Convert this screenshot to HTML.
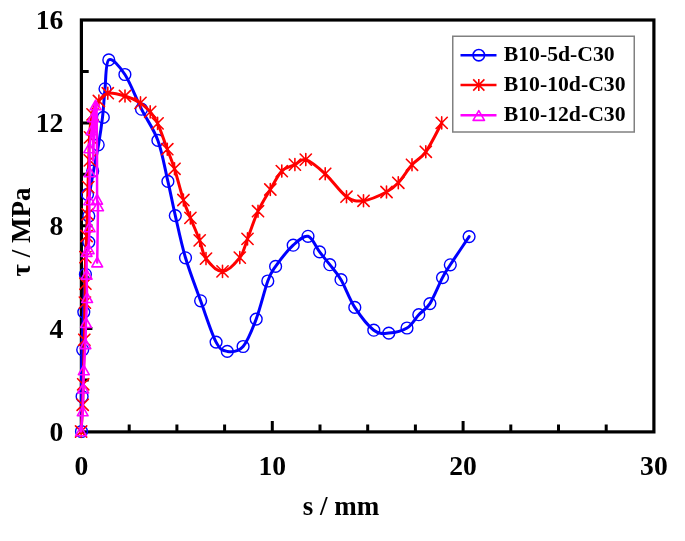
<!DOCTYPE html>
<html><head><meta charset="utf-8"><style>
html,body{margin:0;padding:0;background:#fff;}
body{width:685px;height:541px;overflow:hidden;}
svg{display:block;will-change:transform;}
text{font-family:"Liberation Serif",serif;font-weight:bold;fill:#000;}
</style></head><body>
<svg width="685" height="541" viewBox="0 0 685 541">
<rect width="685" height="541" fill="#fff"/>
<g font-size="27.6"><text x="63.4" y="440.6" text-anchor="end">0</text><text x="63.4" y="337.7" text-anchor="end">4</text><text x="63.4" y="234.8" text-anchor="end">8</text><text x="63.4" y="132" text-anchor="end">12</text><text x="63.4" y="29.1" text-anchor="end">16</text><text x="81.5" y="474.7" text-anchor="middle">0</text><text x="272.3" y="474.7" text-anchor="middle">10</text><text x="463.1" y="474.7" text-anchor="middle">20</text><text x="653.9" y="474.7" text-anchor="middle">30</text></g>
<g font-size="27">
<text x="341" y="515" text-anchor="middle">s / mm</text>
<text transform="translate(30,232) rotate(-90)" text-anchor="middle">τ / MPa</text>
</g>
<path d="M129.2,432V424.6M176.9,432V424.6M224.6,432V424.6M272.3,432V420.9M320,432V424.6M367.7,432V424.6M415.4,432V424.6M463.1,432V420.9M510.8,432V424.6M558.5,432V424.6M606.2,432V424.6M81,380.1H88.7M81,328.6H92.4M81,277.2H88.7M81,225.7H92.4M81,174.3H88.7M81,122.9H92.4M81,71.4H88.7" stroke="#000" stroke-width="3" fill="none"/>
<rect x="81.4" y="20" width="572.5" height="411.9" fill="none" stroke="#000" stroke-width="3.2"/>
<g fill="none" stroke-linejoin="round" stroke-linecap="round">
<path d="M81.5,431.5C81.5,425.6 81.2,410.1 81.3,396.4C81.4,382.7 81.6,363.4 82,349.4C82.4,335.3 83,324.6 83.5,312.1C84,299.6 84.5,286 85,274.3C85.5,262.6 86.1,251.8 86.5,242.1C86.9,232.4 87,223.9 87.5,216C88,208.1 88.5,201.9 89.5,194.4C90.5,186.9 92,179.3 93.5,171C95,162.7 97,153.7 98.5,144.8C100,135.9 101.4,126.7 102.5,117.4C103.6,108.1 104,98.4 105,88.8C106,79.2 105.5,62.3 108.8,59.9C112.1,57.5 119.5,66.3 124.9,74.5C130.3,82.7 136,98.2 141.5,109.2C147,120.2 153.5,128.4 157.9,140.4C162.3,152.4 165,168.9 167.9,181.4C170.8,193.9 172.4,202.9 175.3,215.6C178.2,228.3 181.3,243.6 185.5,257.8C189.7,272 195.5,286.7 200.6,300.8C205.7,314.8 211.6,333.7 216.1,342.1C220.6,350.5 222.8,350.7 227.3,351.4C231.8,352.1 238.3,351.9 243.1,346.5C247.9,341.1 252.1,330 256.2,319.1C260.3,308.2 264.6,289.8 267.8,281C271,272.2 271.4,272.4 275.6,266.4C279.8,260.4 287.8,250.2 293.2,245.2C298.6,240.2 303.6,235.2 308,236.3C312.4,237.4 316,247.2 319.6,251.9C323.2,256.6 326.2,260.1 329.8,264.7C333.4,269.3 336.8,272.6 341,279.7C345.2,286.8 349.3,299 354.8,307.4C360.3,315.8 368.1,325.9 373.8,330.2C379.5,334.5 383.3,333.5 388.8,333.1C394.3,332.7 402,331.1 407,328C412,324.9 415,318.8 418.8,314.7C422.6,310.6 425.9,309.8 429.9,303.6C433.8,297.4 439.1,284.1 442.5,277.6C445.9,271.1 445.9,271.6 450.3,264.8C454.7,258 466,241.3 469.1,236.6" stroke="#00f" stroke-width="3"/>
<g stroke="#00f" stroke-width="1.4"><circle cx="81.5" cy="431.5" r="5.9"/><circle cx="82.1" cy="396.5" r="5.9"/><circle cx="82.7" cy="349.8" r="5.9"/><circle cx="83.8" cy="312.1" r="5.9"/><circle cx="85.4" cy="274.3" r="5.9"/><circle cx="88.8" cy="242.1" r="5.9"/><circle cx="88.8" cy="216" r="5.9"/><circle cx="87.5" cy="194.4" r="5.9"/><circle cx="92.7" cy="171" r="5.9"/><circle cx="98.2" cy="144.8" r="5.9"/><circle cx="103.3" cy="117.4" r="5.9"/><circle cx="105" cy="88.8" r="5.9"/><circle cx="108.8" cy="59.9" r="5.9"/><circle cx="124.9" cy="74.5" r="5.9"/><circle cx="141.5" cy="109.2" r="5.9"/><circle cx="157.9" cy="140.4" r="5.9"/><circle cx="167.9" cy="181.4" r="5.9"/><circle cx="175.3" cy="215.6" r="5.9"/><circle cx="185.5" cy="257.8" r="5.9"/><circle cx="200.6" cy="300.8" r="5.9"/><circle cx="216.1" cy="342.1" r="5.9"/><circle cx="227.3" cy="351.4" r="5.9"/><circle cx="243.1" cy="346.5" r="5.9"/><circle cx="256.2" cy="319.1" r="5.9"/><circle cx="267.8" cy="281" r="5.9"/><circle cx="275.6" cy="266.4" r="5.9"/><circle cx="293.2" cy="245.2" r="5.9"/><circle cx="308" cy="236.3" r="5.9"/><circle cx="319.6" cy="251.9" r="5.9"/><circle cx="329.8" cy="264.7" r="5.9"/><circle cx="341" cy="279.7" r="5.9"/><circle cx="354.8" cy="307.4" r="5.9"/><circle cx="373.8" cy="330.2" r="5.9"/><circle cx="388.8" cy="333.1" r="5.9"/><circle cx="407" cy="328" r="5.9"/><circle cx="418.8" cy="314.7" r="5.9"/><circle cx="429.9" cy="303.6" r="5.9"/><circle cx="442.5" cy="277.6" r="5.9"/><circle cx="450.3" cy="264.8" r="5.9"/><circle cx="469.1" cy="236.6" r="5.9"/></g>
<path d="M81.1,431.5C81.4,427.1 82.3,412.7 82.7,404.8C83.1,396.9 82.9,395.1 83.2,384.3C83.5,373.5 84,353.4 84.3,339.8C84.6,326.2 84.8,311.9 84.9,302.6C85.1,293.2 85.1,291.3 85.2,283.7C85.3,276.1 85.4,265 85.6,257.1C85.8,249.1 86.3,243.1 86.6,236C86.9,228.9 87.1,222.5 87.3,214.3C87.5,206.2 87.8,196.1 88,187.1C88.2,178.1 88.5,168.7 88.8,160.4C89,152.1 89,145.1 89.5,137.4C90,129.7 90.4,120.5 92,114.4C93.6,108.3 96.3,104.5 98.9,101C101.5,97.5 103.5,94 107.8,93.2C112.1,92.4 119.5,94.4 125,96C130.4,97.6 136.3,100.2 140.5,102.9C144.7,105.6 147.3,108.5 150.2,111.9C153,115.3 154.8,117.2 157.6,123.4C160.4,129.6 164.5,141.6 167.3,149.2C170.1,156.8 171.8,160.3 174.5,168.8C177.2,177.3 180.8,191.8 183.4,200C186.1,208.2 187.7,211.2 190.4,217.9C193.1,224.6 197.1,233.6 199.7,240.4C202.3,247.2 202.2,253.4 206,258.6C209.8,263.8 216.9,271.6 222.5,271.4C228.1,271.2 235.6,263 239.8,257.6C244,252.2 244.5,246.6 247.5,238.9C250.5,231.2 254.2,219.4 258,211.2C261.8,203 266.3,196.2 270.3,189.5C274.3,182.8 277.7,175.2 281.8,171.1C285.9,166.9 290.9,166.5 294.9,164.6C298.9,162.7 300.8,158.1 305.8,159.6C310.9,161.1 318.4,167.6 325.2,173.8C332,180 340.1,192.2 346.5,196.7C352.9,201.2 356.8,201.6 363.5,200.8C370.2,200 380.7,195 386.5,192C392.3,189 394.1,187.3 398.3,182.8C402.6,178.3 407.4,170 412,164.8C416.6,159.6 420.9,158.8 425.8,151.8C430.8,144.8 439.1,127.7 441.7,122.9" stroke="#f00" stroke-width="3"/>
<g stroke="#f00" stroke-width="1.6"><path d="M75.5,425.9L86.7,437.1M86.7,425.9L75.5,437.1M81.1,425.5L81.1,437.5M77.1,399.2L88.3,410.4M88.3,399.2L77.1,410.4M82.7,398.8L82.7,410.8M77.6,378.7L88.8,389.9M88.8,378.7L77.6,389.9M83.2,378.3L83.2,390.3M78.7,334.2L89.9,345.4M89.9,334.2L78.7,345.4M84.3,333.8L84.3,345.8M79.3,297L90.5,308.2M90.5,297L79.3,308.2M84.9,296.6L84.9,308.6M79.8,278.1L91,289.3M91,278.1L79.8,289.3M85.4,277.7L85.4,289.7M79.8,251.5L91,262.7M91,251.5L79.8,262.7M85.4,251.1L85.4,263.1M81,230.4L92.2,241.6M92.2,230.4L81,241.6M86.6,230L86.6,242M82,208.7L93.2,219.9M93.2,208.7L82,219.9M87.6,208.3L87.6,220.3M82.7,181.5L93.9,192.7M93.9,181.5L82.7,192.7M88.3,181.1L88.3,193.1M84.2,154.8L95.4,166M95.4,154.8L84.2,166M89.8,154.4L89.8,166.4M84.4,131.8L95.6,143M95.6,131.8L84.4,143M90,131.4L90,143.4M86.9,108.8L98.1,120M98.1,108.8L86.9,120M92.5,108.4L92.5,120.4M93.3,95.4L104.5,106.6M104.5,95.4L93.3,106.6M98.9,95L98.9,107M102.2,87.6L113.4,98.8M113.4,87.6L102.2,98.8M107.8,87.2L107.8,99.2M119.4,90.4L130.6,101.6M130.6,90.4L119.4,101.6M125,90L125,102M134.9,97.3L146.1,108.5M146.1,97.3L134.9,108.5M140.5,96.9L140.5,108.9M144.6,106.3L155.8,117.5M155.8,106.3L144.6,117.5M150.2,105.9L150.2,117.9M152,117.8L163.2,129M163.2,117.8L152,129M157.6,117.4L157.6,129.4M161.7,143.6L172.9,154.8M172.9,143.6L161.7,154.8M167.3,143.2L167.3,155.2M168.9,163.2L180.1,174.4M180.1,163.2L168.9,174.4M174.5,162.8L174.5,174.8M177.8,194.4L189,205.6M189,194.4L177.8,205.6M183.4,194L183.4,206M184.8,212.3L196,223.5M196,212.3L184.8,223.5M190.4,211.9L190.4,223.9M194.1,234.8L205.3,246M205.3,234.8L194.1,246M199.7,234.4L199.7,246.4M200.4,253L211.6,264.2M211.6,253L200.4,264.2M206,252.6L206,264.6M216.9,265.8L228.1,277M228.1,265.8L216.9,277M222.5,265.4L222.5,277.4M234.2,252L245.4,263.2M245.4,252L234.2,263.2M239.8,251.6L239.8,263.6M241.9,233.3L253.1,244.5M253.1,233.3L241.9,244.5M247.5,232.9L247.5,244.9M252.4,205.6L263.6,216.8M263.6,205.6L252.4,216.8M258,205.2L258,217.2M264.7,183.9L275.9,195.1M275.9,183.9L264.7,195.1M270.3,183.5L270.3,195.5M276.2,165.5L287.4,176.7M287.4,165.5L276.2,176.7M281.8,165.1L281.8,177.1M289.3,159L300.5,170.2M300.5,159L289.3,170.2M294.9,158.6L294.9,170.6M300.2,154L311.4,165.2M311.4,154L300.2,165.2M305.8,153.6L305.8,165.6M319.6,168.2L330.8,179.4M330.8,168.2L319.6,179.4M325.2,167.8L325.2,179.8M340.9,191.1L352.1,202.3M352.1,191.1L340.9,202.3M346.5,190.7L346.5,202.7M357.9,195.2L369.1,206.4M369.1,195.2L357.9,206.4M363.5,194.8L363.5,206.8M380.9,186.4L392.1,197.6M392.1,186.4L380.9,197.6M386.5,186L386.5,198M392.7,177.2L403.9,188.4M403.9,177.2L392.7,188.4M398.3,176.8L398.3,188.8M406.4,159.2L417.6,170.4M417.6,159.2L406.4,170.4M412,158.8L412,170.8M420.2,146.2L431.4,157.4M431.4,146.2L420.2,157.4M425.8,145.8L425.8,157.8M436.1,117.3L447.3,128.5M447.3,117.3L436.1,128.5M441.7,116.9L441.7,128.9"/></g>
<path d="M81,431.5 L82.7,411.5 L83.2,388.7 L83.8,370.4 L85.4,344.3 L86,323.2 L87.1,298.2 L86.6,274.8 L86.6,252.1 L88.6,249.4 L89.6,227.4 L89.3,200.4 L89.6,172.4 L89.3,148.4 L91.6,130.4 L93,116.4 L95.6,101.9 L93.5,125.4 L93,160.4 L95,110.4 L96.5,104.4 L97,150.4 L97.1,199.8 L98,206.4 L97.2,262.6" stroke="#f0f" stroke-width="2.5"/>
<g stroke="#f0f" stroke-width="1.6"><path d="M81,426.2L86.4,435.8L75.6,435.8ZM82.7,406.2L88.1,415.8L77.3,415.8ZM83.2,383.4L88.6,393L77.8,393ZM83.8,365.1L89.2,374.7L78.4,374.7ZM85.4,339L90.8,348.6L80,348.6ZM86,317.9L91.4,327.5L80.6,327.5ZM87.1,292.9L92.5,302.5L81.7,302.5ZM86.6,269.5L92,279.1L81.2,279.1ZM86.6,246.8L92,256.4L81.2,256.4ZM88.6,244.1L94,253.7L83.2,253.7ZM89.6,222.1L95,231.7L84.2,231.7ZM89.3,195.1L94.7,204.7L83.9,204.7ZM89.6,167.1L95,176.7L84.2,176.7ZM89.3,143.1L94.7,152.7L83.9,152.7ZM91.6,125.1L97,134.7L86.2,134.7ZM93,112.1L98.4,121.7L87.6,121.7ZM95.6,100.1L101,109.7L90.2,109.7ZM97.1,194.5L102.5,204.1L91.7,204.1ZM98,201.1L103.4,210.7L92.6,210.7ZM97.2,257.3L102.6,266.9L91.8,266.9Z"/></g>
</g>
<rect x="452.75" y="36.25" width="181.5" height="95.75" fill="#fff" stroke="#808080" stroke-width="1.5"/>
<g fill="none" stroke-linecap="butt">
<path d="M460.5,55.2H496.5" stroke="#00f" stroke-width="2.6"/>
<circle cx="478.8" cy="55.2" r="5.7" stroke="#00f" stroke-width="1.6"/>
<path d="M460.5,85H496.5" stroke="#f00" stroke-width="2.6"/>
<path d="M473.2,79.4L484.4,90.6M484.4,79.4L473.2,90.6M478.8,79V91" stroke="#f00" stroke-width="1.6"/>
<path d="M460.5,115.3H496.5" stroke="#f0f" stroke-width="2.6"/>
<path d="M478.8,110.6L484.5,120.4L473.1,120.4Z" stroke="#f0f" stroke-width="1.6" stroke-linejoin="round"/>
</g>
<g font-size="21.7">
<text x="503.8" y="61">B10-5d-C30</text>
<text x="503.8" y="91">B10-10d-C30</text>
<text x="503.8" y="121">B10-12d-C30</text>
</g>
</svg>
</body></html>
